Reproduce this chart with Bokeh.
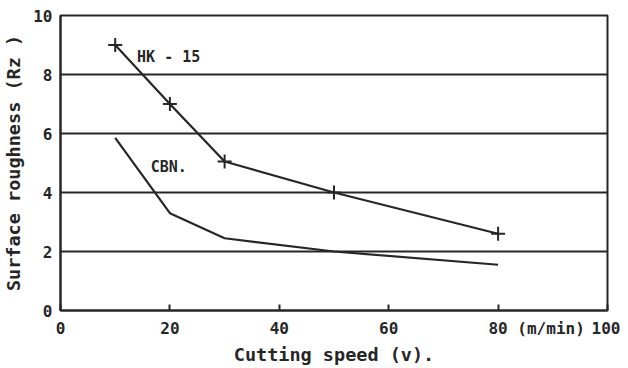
from bokeh.plotting import figure
from bokeh.models import Range1d, FixedTicker, Label
from bokeh.embed import file_html
from bokeh.resources import INLINE

# Data
hk_speed = [10, 20, 30, 50, 80]
hk_rough = [9.0, 7.0, 5.05, 4.0, 2.6]
cbn_speed = [10, 20, 30, 50, 80]
cbn_rough = [5.85, 3.3, 2.45, 2.0, 1.55]

x_ticks = [0, 20, 40, 60, 80, 100]
x_tick_labels = {80: "\u00a0" * 8 + "80 (m/min)"}
y_ticks = [0, 2, 4, 6, 8, 10]

INK = "#262626"
FONT = "DejaVu Sans Mono"

p = figure(frame_width=547, frame_height=295, output_backend="svg", toolbar_location=None,
           x_range=Range1d(0, 100), y_range=Range1d(0, 10),
           min_border_left=60, min_border_right=13, min_border_top=15, min_border_bottom=0)

p.outline_line_color = INK
p.outline_line_width = 2
p.background_fill_color = "white"
p.border_fill_color = "white"

p.xgrid.grid_line_color = None
p.ygrid.grid_line_color = INK
p.ygrid.grid_line_width = 2
p.ygrid.ticker = FixedTicker(ticks=y_ticks)

p.xaxis.ticker = FixedTicker(ticks=x_ticks)
p.xaxis.major_label_overrides = x_tick_labels
p.yaxis.ticker = FixedTicker(ticks=y_ticks)

for ax in (p.xaxis[0], p.yaxis[0]):
    ax.axis_line_color = INK
    ax.axis_line_width = 2
    ax.major_tick_line_color = INK
    ax.major_tick_line_width = 2
    ax.minor_tick_line_color = None
    ax.major_label_text_font = FONT
    ax.major_label_text_font_style = "bold"
    ax.major_label_text_font_size = "16px"
    ax.major_label_text_color = INK
    ax.axis_label_text_font = FONT
    ax.axis_label_text_font_style = "bold"
    ax.axis_label_text_font_size = "18.5px"
    ax.axis_label_text_color = INK

p.xaxis.major_tick_in = 6
p.xaxis.major_tick_out = 0
p.xaxis.major_label_standoff = 8
p.xaxis.axis_label = "Cutting speed (v)."
p.xaxis.axis_label_standoff = 3

p.yaxis.major_tick_in = 0
p.yaxis.major_tick_out = 0
p.yaxis.major_label_standoff = 8
p.yaxis.axis_label = "Surface roughness (Rz )"
p.yaxis.axis_label_standoff = 6

# Series
p.line(hk_speed, hk_rough, line_color=INK, line_width=2.2)
p.scatter(hk_speed, hk_rough, marker="cross", size=14, line_color=INK, line_width=2)
p.line(cbn_speed, cbn_rough, line_color=INK, line_width=2.2)

# Annotations
p.add_layout(Label(x=14, y=8.6, text="HK - 15", text_font=FONT, text_font_style="bold",
                   text_font_size="15px", text_color=INK, text_baseline="middle"))
p.add_layout(Label(x=16.5, y=4.85, text="CBN.", text_font=FONT, text_font_style="bold",
                   text_font_size="15px", text_color=INK, text_baseline="middle"))

open("out.html", "w").write(file_html(p, INLINE))
